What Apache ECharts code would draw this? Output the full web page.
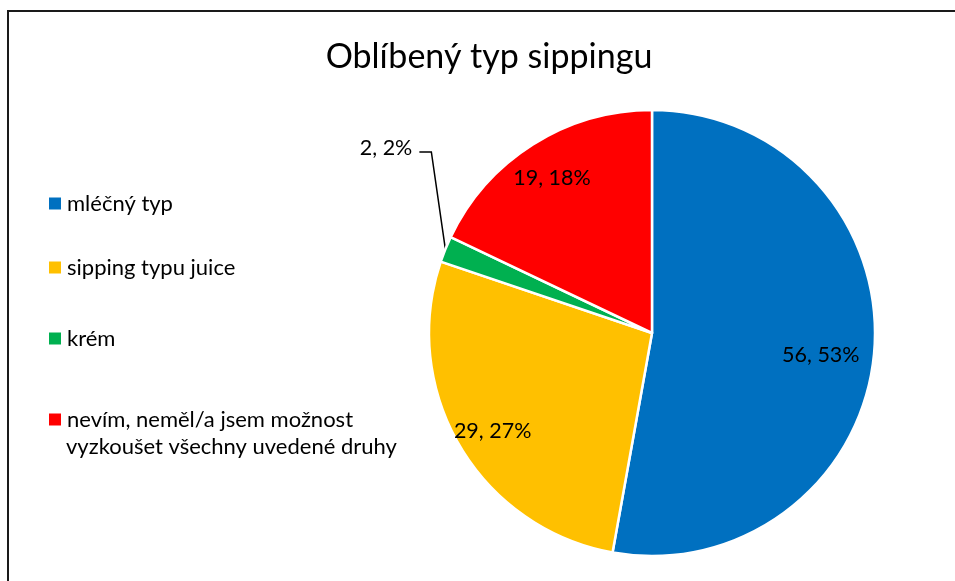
<!DOCTYPE html>
<html>
<head>
<meta charset="utf-8">
<script src="https://cdn.jsdelivr.net/npm/echarts@6/dist/echarts.min.js"></script>
<style>
  html, body { margin: 0; padding: 0; background: #fff; }
  #chart { width: 955px; height: 581px; }
</style>
</head>
<body>
<div id="chart"></div>
<script>
// ---- data ----
const chartTitle = 'Oblíbený typ sippingu';
const categories = [
  'mléčný typ',
  'sipping typu juice',
  'krém',
  'nevím, neměl/a jsem možnost vyzkoušet všechny uvedené druhy'
];
const values = [56, 29, 2, 19];
const colors = ['#0070C0', '#FFC000', '#00B050', '#FF0000'];

// ---- layout ----
const FONT = 'Lato';
const CX = 652, CY = 333, R = 223;
const labelRadiusFrac = [0.76, 0.83, null, 0.84];
const labelExtraDy = [7, 4, 0, 3];
const legendTops = [190, 254, 325, 406];
const LEGEND_FS = 22;

const chart = echarts.init(document.getElementById('chart'), null, { renderer: 'canvas' });

const data = categories.map((name, i) => {
  const item = { name: name, value: values[i], itemStyle: { color: colors[i] } };
  if (i === 2) {
    item.label = { position: 'outside' };
    item.labelLine = { show: true };
  }
  return item;
});

// the long legend entry wraps onto a second line
const splitAt = 'možnost ';
const firstLine = n => (n.indexOf(splitAt) >= 0 ? n.slice(0, n.indexOf(splitAt) + splitAt.length - 1) : n);
const secondLine = categories[3].slice(categories[3].indexOf(splitAt) + splitAt.length);

const legends = categories.map((name, i) => ({
  data: [name],
  orient: 'vertical',
  left: 47,
  top: legendTops[i],
  padding: 0,
  icon: 'rect',
  itemWidth: 14,
  itemHeight: 14,
  itemGap: 0,
  selectedMode: false,
  formatter: firstLine,
  textStyle: { fontFamily: FONT, fontSize: LEGEND_FS, lineHeight: 27, color: '#000' }
}));

chart.setOption({
  backgroundColor: '#fff',
  animation: false,
  title: {
    text: chartTitle,
    left: 489,
    top: 40,
    padding: 0,
    textAlign: 'center',
    textStyle: { fontFamily: FONT, fontSize: 34, fontWeight: 'normal', color: '#000' }
  },
  legend: legends,
  graphic: [
    {
      type: 'line',
      shape: { x1: 8, y1: 11, x2: 8, y2: 600 },
      style: { stroke: '#1a1a1a', lineWidth: 2 },
      silent: true
    },
    {
      type: 'line',
      shape: { x1: 7, y1: 11, x2: 960, y2: 11 },
      style: { stroke: '#1a1a1a', lineWidth: 2 },
      silent: true
    },
    {
      type: 'text',
      left: 66,
      top: legendTops[3] + 27,
      style: {
        text: secondLine,
        font: LEGEND_FS + 'px ' + FONT,
        fill: '#000',
        lineHeight: 27,
        verticalAlign: 'top'
      },
      silent: true
    }
  ],
  series: [{
    type: 'pie',
    center: [CX, CY],
    radius: [0, R],
    startAngle: 90,
    clockwise: true,
    avoidLabelOverlap: false,
    percentPrecision: 0,
    itemStyle: { borderColor: '#fff', borderWidth: 2.5 },
    label: {
      show: true,
      position: 'inside',
      formatter: '{c}, {d}%',
      fontFamily: FONT,
      fontSize: 21.5,
      color: '#000'
    },
    labelLine: {
      show: true,
      length: 20,
      length2: 10,
      lineStyle: { color: '#000', width: 1.5 }
    },
    emphasis: { disabled: true },
    data: data,
    labelLayout: function (p) {
      const frac = labelRadiusFrac[p.dataIndex];
      const lr = p.labelRect;
      if (frac != null) {
        const lx = lr.x + lr.width / 2;
        const ly = lr.y + lr.height / 2;
        const dx = lx - CX, dy = ly - CY;
        const d = Math.sqrt(dx * dx + dy * dy) || 1;
        const target = frac * R;
        return { dx: dx / d * target - dx, dy: dy / d * target - dy + labelExtraDy[p.dataIndex] };
      }
      // outside label for the small slice
      const a = p.labelLinePoints ? p.labelLinePoints[0] : [CX - R * 0.93, CY - R * 0.38];
      const tx = a[0] - 33, ty = CY - 185;
      return {
        x: tx,
        y: ty,
        align: 'right',
        verticalAlign: 'middle',
        labelLinePoints: [a, [a[0] - 14, ty + 4], [tx + 7, ty + 4]]
      };
    }
  }]
});
</script>
</body>
</html>
